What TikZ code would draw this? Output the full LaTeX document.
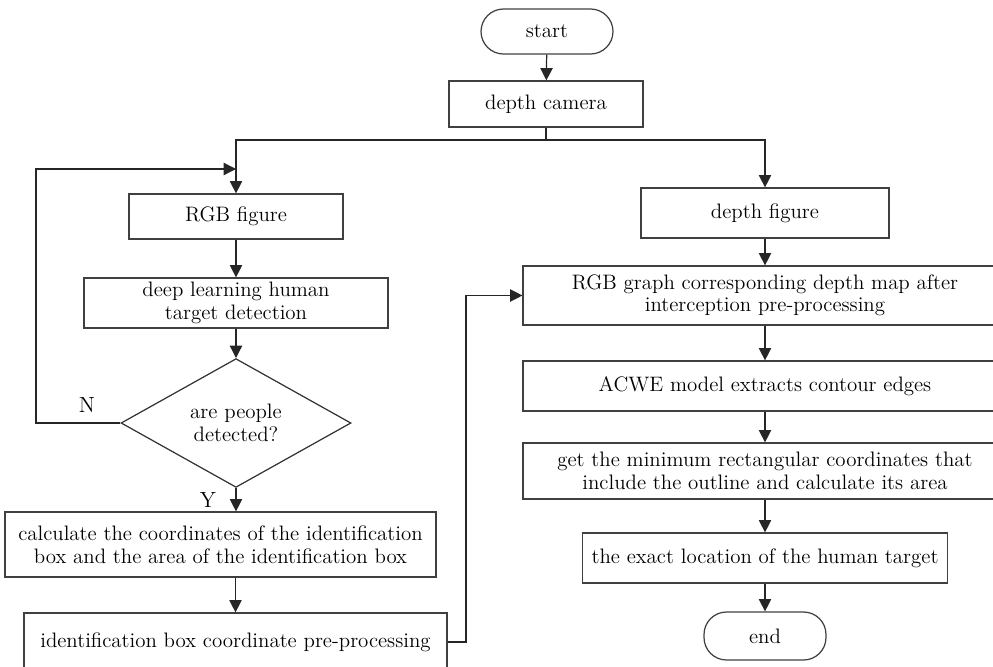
\documentclass[tikz,border=0pt]{standalone}
\usepackage{tikz}
\usetikzlibrary{arrows.meta,shapes}
\tikzstyle{process}=[rectangle,draw=black!75,line width=0.7pt,align=center,inner sep=2pt]
\tikzstyle{terminal}=[rectangle,draw=black!75,line width=0.7pt,rounded corners=0.45cm]
\tikzstyle{decision}=[diamond,draw=black!80,line width=0.7pt,align=center,inner sep=0pt]
\tikzstyle{edge} = [draw,line width=0.7pt,black!85,-{Triangle[length=7pt,width=7pt]}]
\tikzstyle{line} = [draw,line width=0.7pt,black!85]
\tikzstyle{label} = [font=\fontsize{12.5}{14}\selectfont]

\begin{document}
\begin{tikzpicture}[x=0.02cm,y=-0.02cm,font=\fontsize{11.9}{12.8}\selectfont]
    \useasboundingbox (0,0) rectangle (993,666);

    % start / end
    \node[terminal, minimum width=2.64cm, minimum height=0.9cm] (start) at (547,31.5) {start};
    \node[terminal, minimum width=2.44cm, minimum height=0.96cm] (end) at (765,636) {end};

    % boxes: x/y/name/width/height/text
    \foreach \x/\y/\name/\w/\h/\txt in {
        546/104/camera/3.88/0.92/{depth camera},
        236/216.5/rgb/4.28/0.9/{RGB figure},
        236/303/deep/6.08/1.0/{deep learning human\\target detection},
        220.5/544.5/calc/8.62/1.3/{calculate the coordinates of the identification\\box and the area of the identification box},
        235.5/642/ident/8.46/1.16/{identification box coordinate pre-processing},
        765/213/depth/4.96/1.0/{depth figure},
        765/295.5/graph/9.68/1.18/{RGB graph corresponding depth map after\\interception pre-processing},
        765/386/acwe/9.68/1.0/{ACWE model extracts contour edges},
        765/471/rect/9.68/1.12/{get the minimum rectangular coordinates that\\include the outline and calculate its area},
        765/558/loc/7.3/1.0/{the exact location of the human target}}
        \node[process, minimum width=\w cm, minimum height=\h cm] (\name) at (\x,\y) {\txt};

    \node[decision, minimum width=4.6cm, minimum height=2.56cm] (detect) at (236,423) {are people\\detected?};

    \coordinate (fork) at (546,140);
    \coordinate (nleft) at (36,169);
    \coordinate (loopin) at (236,169);
    \coordinate (jog) at (466,400);

    % left branch
    \path[line] (camera) -- (fork);
    \path[edge] (fork) -| (rgb);
    \path[edge] (fork) -| (depth);
    \path[edge] (start) -- (camera);
    \path[edge] (rgb) -- (deep);
    \path[edge] (deep) -- (detect);
    \path[edge] (detect.south) -- (detect.south |- calc.north);
    \path[edge] (calc.south -| ident.north) -- (ident.north);
    \path[edge] (detect.west) -| (nleft) -- (loopin);
    \path[edge] (ident.east) -| (jog) |- (graph.west);

    % right branch
    \foreach \source/ \dest in {depth/graph, graph/acwe, acwe/rect, rect/loc, loc/end}
        \path[edge] (\source) -- (\dest);

    \node[label] (nlab) at (87,405) {N};
    \node[label] (ylab) at (208,500) {Y};
\end{tikzpicture}
\end{document}
